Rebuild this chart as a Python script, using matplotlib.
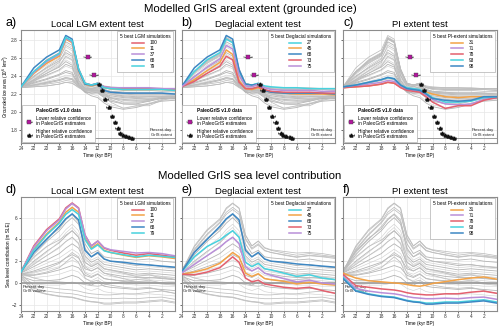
import numpy as np
import matplotlib
matplotlib.use("Agg")
import matplotlib.pyplot as plt

plt.rcParams['font.family'] = ['Liberation Sans', 'DejaVu Sans']

# ---------------- data ----------------
T = [24, 22, 20, 18, 17, 16, 15, 14, 13, 12, 11, 10, 8, 6, 4, 2, 0]

# grounded ice area (10^6 km2), highlighted simulations
ext_100 = [2.28, 2.44, 2.57, 2.65, 2.82, 2.78, 2.48, 2.32, 2.30, 2.32, 2.28, 2.27, 2.26, 2.26, 2.26, 2.26, 2.25]
ext_11 = [2.28, 2.43, 2.54, 2.62, 2.81, 2.77, 2.46, 2.31, 2.29, 2.31, 2.27, 2.26, 2.25, 2.25, 2.25, 2.25, 2.24]
ext_37 = [2.28, 2.44, 2.56, 2.64, 2.82, 2.78, 2.47, 2.32, 2.30, 2.32, 2.28, 2.27, 2.27, 2.27, 2.27, 2.26, 2.26]
ext_68 = [2.28, 2.49, 2.61, 2.69, 2.85, 2.81, 2.47, 2.31, 2.30, 2.31, 2.24, 2.22, 2.21, 2.21, 2.21, 2.21, 2.20]
ext_79 = [2.28, 2.45, 2.57, 2.65, 2.83, 2.79, 2.48, 2.32, 2.30, 2.32, 2.27, 2.26, 2.25, 2.25, 2.25, 2.25, 2.24]
ext_27 = [2.28, 2.45, 2.58, 2.66, 2.81, 2.77, 2.45, 2.31, 2.30, 2.32, 2.29, 2.28, 2.27, 2.27, 2.26, 2.26, 2.26]
ext_45 = [2.28, 2.36, 2.46, 2.55, 2.69, 2.64, 2.35, 2.26, 2.25, 2.27, 2.24, 2.22, 2.21, 2.20, 2.20, 2.20, 2.19]
ext_73 = [2.28, 2.34, 2.43, 2.51, 2.62, 2.58, 2.33, 2.26, 2.26, 2.28, 2.25, 2.23, 2.22, 2.22, 2.22, 2.21, 2.21]
ext_75 = [2.28, 2.39, 2.50, 2.59, 2.74, 2.70, 2.41, 2.29, 2.28, 2.31, 2.27, 2.25, 2.24, 2.24, 2.24, 2.23, 2.23]
ext_31 = [2.27, 2.28, 2.29, 2.31, 2.33, 2.32, 2.28, 2.25, 2.24, 2.24, 2.22, 2.20, 2.17, 2.16, 2.17, 2.17, 2.17]
ext_71 = [2.27, 2.29, 2.31, 2.33, 2.35, 2.34, 2.29, 2.25, 2.24, 2.23, 2.19, 2.14, 2.09, 2.08, 2.09, 2.14, 2.16]
ext_78 = [2.27, 2.28, 2.29, 2.31, 2.33, 2.32, 2.27, 2.24, 2.23, 2.22, 2.17, 2.11, 2.04, 2.07, 2.07, 2.13, 2.16]
ext_93 = [2.28, 2.30, 2.33, 2.36, 2.38, 2.37, 2.30, 2.27, 2.26, 2.25, 2.21, 2.16, 2.11, 2.11, 2.12, 2.16, 2.17]
ext_98 = [2.28, 2.30, 2.33, 2.36, 2.385, 2.37, 2.30, 2.26, 2.25, 2.24, 2.20, 2.15, 2.13, 2.12, 2.13, 2.17, 2.17]

# grounded ice area, other ensemble members (grey)
ext_g1 = [2.28, 2.45, 2.55, 2.63, 2.78, 2.74, 2.45, 2.30, 2.28, 2.30, 2.25, 2.23, 2.22, 2.21, 2.21, 2.21, 2.20]
ext_g2 = [2.28, 2.42, 2.52, 2.60, 2.72, 2.68, 2.42, 2.29, 2.27, 2.29, 2.24, 2.22, 2.21, 2.20, 2.20, 2.20, 2.19]
ext_g3 = [2.28, 2.40, 2.49, 2.57, 2.66, 2.62, 2.40, 2.28, 2.26, 2.28, 2.23, 2.21, 2.20, 2.19, 2.19, 2.19, 2.18]
ext_g4 = [2.28, 2.38, 2.46, 2.53, 2.61, 2.57, 2.37, 2.27, 2.26, 2.27, 2.22, 2.20, 2.19, 2.18, 2.18, 2.18, 2.18]
ext_g5 = [2.28, 2.36, 2.43, 2.50, 2.56, 2.52, 2.35, 2.26, 2.25, 2.26, 2.22, 2.20, 2.18, 2.17, 2.17, 2.17, 2.17]
ext_g6 = [2.28, 2.34, 2.40, 2.46, 2.51, 2.48, 2.33, 2.25, 2.24, 2.25, 2.21, 2.19, 2.17, 2.16, 2.16, 2.17, 2.17]
ext_g7 = [2.28, 2.33, 2.37, 2.42, 2.46, 2.44, 2.31, 2.24, 2.23, 2.24, 2.20, 2.18, 2.16, 2.15, 2.15, 2.16, 2.16]
ext_g8 = [2.28, 2.31, 2.34, 2.38, 2.41, 2.40, 2.29, 2.23, 2.22, 2.23, 2.19, 2.17, 2.15, 2.14, 2.15, 2.15, 2.15]
ext_g9 = [2.28, 2.30, 2.32, 2.35, 2.37, 2.36, 2.28, 2.22, 2.21, 2.22, 2.18, 2.16, 2.14, 2.13, 2.14, 2.15, 2.15]
ext_g10 = [2.28, 2.37, 2.45, 2.52, 2.58, 2.54, 2.33, 2.24, 2.20, 2.18, 2.12, 2.08, 2.05, 2.06, 2.10, 2.13, 2.14]
ext_g11 = [2.28, 2.35, 2.41, 2.47, 2.53, 2.50, 2.31, 2.22, 2.18, 2.16, 2.10, 2.06, 2.03, 2.05, 2.09, 2.12, 2.13]
ext_g12 = [2.28, 2.44, 2.55, 2.64, 2.76, 2.72, 2.44, 2.28, 2.24, 2.22, 2.17, 2.13, 2.10, 2.10, 2.13, 2.16, 2.17]
ext_g13 = [2.28, 2.32, 2.36, 2.41, 2.44, 2.42, 2.30, 2.23, 2.21, 2.21, 2.16, 2.12, 2.09, 2.09, 2.12, 2.15, 2.15]
ext_g14 = [2.28, 2.39, 2.48, 2.56, 2.64, 2.60, 2.38, 2.27, 2.25, 2.26, 2.22, 2.20, 2.19, 2.18, 2.18, 2.19, 2.19]

# sea level contribution (m SLE), highlighted simulations
sle_100 = [1.0, 3.4, 4.9, 5.9, 6.9, 7.35, 6.9, 4.4, 3.4, 3.85, 3.2, 3.0, 2.75, 2.55, 2.7, 2.55, 2.4]
sle_11 = [1.0, 3.1, 4.5, 5.6, 6.5, 6.95, 6.5, 4.1, 3.2, 3.6, 3.0, 2.8, 2.55, 2.35, 2.5, 2.4, 2.25]
sle_37 = [1.0, 3.3, 4.8, 5.8, 6.8, 7.3, 6.85, 4.4, 3.4, 3.85, 3.25, 3.05, 2.9, 2.75, 2.8, 2.7, 2.5]
sle_68 = [1.0, 2.8, 4.0, 5.2, 5.9, 6.35, 5.8, 3.0, 2.4, 2.8, 2.2, 2.0, 1.9, 1.75, 1.65, 1.55, 1.45]
sle_79 = [1.0, 3.0, 4.4, 5.5, 6.3, 6.75, 6.3, 4.0, 3.1, 3.5, 2.95, 2.8, 2.6, 2.4, 2.55, 2.45, 2.35]
sle_27 = [1.0, 2.4, 3.35, 3.95, 4.4, 4.8, 4.2, 1.9, 1.5, 1.8, 1.3, 1.2, 0.9, 0.6, 0.75, 0.45, 0.3]
sle_45 = [0.8, 1.0, 1.3, 1.8, 2.3, 2.8, 2.4, 0.9, 0.6, 0.85, 0.4, 0.3, 0.15, -0.1, 0.05, -0.1, -0.2]
sle_73 = [0.8, 0.75, 1.0, 1.4, 1.9, 2.4, 1.9, 0.45, 0.1, 0.25, -0.1, -0.2, -0.4, -0.5, -0.4, -0.7, -0.95]
sle_75 = [0.9, 1.7, 2.5, 3.3, 3.8, 4.2, 3.6, 1.5, 1.1, 1.4, 0.9, 0.7, 0.4, 0.1, 0.25, 0.0, -0.1]
sle_31 = [0.9, 0.45, 0.2, 0.1, 0.05, 0.0, -0.05, -0.15, -0.25, -0.3, -0.2, -0.05, 0.12, 0.3, 0.45, 0.55, 0.35]
sle_71 = [0.6, -0.5, -0.75, -0.9, -0.95, -1.0, -1.1, -1.25, -1.35, -1.4, -1.45, -1.45, -1.4, -1.45, -1.35, -1.3, -1.5]
sle_78 = [0.8, -0.25, -0.4, -0.55, -0.6, -0.65, -0.75, -0.9, -1.0, -1.05, -1.1, -1.1, -1.0, -1.0, -0.85, -0.75, -0.95]
sle_93 = [0.5, -0.7, -1.0, -1.2, -1.25, -1.3, -1.45, -1.6, -1.7, -1.75, -1.85, -1.85, -1.75, -1.75, -1.65, -1.55, -1.75]
sle_98 = [0.4, -0.75, -1.05, -1.25, -1.3, -1.35, -1.5, -1.65, -1.75, -1.8, -1.95, -1.95, -1.85, -1.85, -1.75, -1.65, -1.85]

# sea level contribution, other ensemble members (grey)
sle_g1 = [1.0, 2.6, 3.8, 4.8, 5.5, 6.0, 5.4, 3.2, 2.4, 2.7, 2.2, 2.0, 1.8, 1.6, 1.7, 1.5, 1.4]
sle_g2 = [1.0, 2.3, 3.3, 4.2, 4.9, 5.4, 4.8, 2.8, 2.1, 2.4, 1.9, 1.8, 1.6, 1.4, 1.5, 1.4, 1.3]
sle_g3 = [0.9, 2.0, 2.9, 3.7, 4.3, 4.8, 4.2, 2.5, 1.9, 2.2, 1.7, 1.6, 1.4, 1.2, 1.3, 1.2, 1.1]
sle_g4 = [0.9, 1.8, 2.5, 3.2, 3.8, 4.2, 3.7, 2.2, 1.7, 2.0, 1.5, 1.4, 1.2, 1.0, 1.1, 1.0, 0.9]
sle_g5 = [0.9, 1.5, 2.1, 2.7, 3.2, 3.6, 3.2, 1.9, 1.5, 1.8, 1.3, 1.2, 1.0, 0.8, 0.9, 0.8, 0.7]
sle_g6 = [0.8, 1.3, 1.8, 2.3, 2.7, 3.1, 2.7, 1.6, 1.3, 1.6, 1.1, 1.0, 0.8, 0.6, 0.7, 0.6, 0.5]
sle_g7 = [0.8, 1.1, 1.5, 1.9, 2.3, 2.6, 2.3, 1.3, 1.1, 1.4, 0.9, 0.8, 0.6, 0.5, 0.5, 0.4, 0.3]
sle_g8 = [0.8, 0.9, 1.2, 1.5, 1.8, 2.1, 1.8, 1.0, 0.8, 1.1, 0.7, 0.6, 0.4, 0.3, 0.3, 0.2, 0.1]
sle_g9 = [0.7, 0.7, 0.9, 1.2, 1.4, 1.6, 1.4, 0.7, 0.5, 0.8, 0.4, 0.3, 0.2, 0.1, 0.1, 0.0, -0.1]
sle_g10 = [0.7, 0.5, 0.6, 0.8, 1.0, 1.2, 1.0, 0.4, 0.2, 0.5, 0.1, 0.0, -0.1, -0.2, -0.2, -0.3, -0.3]
sle_g11 = [0.6, 0.2, 0.2, 0.3, 0.5, 0.7, 0.5, 0.0, -0.2, 0.1, -0.3, -0.4, -0.5, -0.6, -0.5, -0.6, -0.7]
sle_g12 = [0.6, -0.1, -0.2, -0.2, -0.1, 0.1, -0.1, -0.5, -0.7, -0.5, -0.8, -0.9, -1.0, -1.1, -1.0, -1.1, -1.2]
sle_g13 = [1.2, 2.9, 4.1, 5.0, 5.8, 6.3, 5.6, 3.6, 2.7, 3.0, 2.4, 2.3, 2.2, 2.1, 2.2, 2.0, 1.9]
sle_g14 = [1.1, 1.9, 2.8, 3.8, 4.6, 5.1, 4.4, 2.4, 1.6, 1.9, 1.3, 1.1, 0.9, 0.7, 0.8, 0.6, 0.5]

# PaleoGrIS v1.0 data
low_t = [13.6, 12.6]
low_v = [2.61, 2.41]
low_err = [0.6, 0.6]
high_t = [11.8, 11.3, 10.8, 10.3, 9.8, 9.3, 8.9, 8.5, 8.1, 7.6, 7.1, 6.7]
high_v = [2.31, 2.24, 2.15, 2.06, 1.96, 1.89, 1.82, 1.77, 1.75, 1.73, 1.72, 1.71]
high_err = [0.35] * 12
present_extent = 1.71
present_volume = 0.0

panel_sims_a = ["100", "11", "37", "68", "79"]
panel_sims_b = ["27", "45", "68", "73", "75"]
panel_sims_c = ["31", "71", "78", "93", "98"]
panel_titles = ["Local LGM extent test", "Deglacial extent test", "PI extent test"]
legend_titles = ["5 best LGM simulations", "5 best Deglacial simulations", "5 best PI-extent simulations"]
x_ticks = [24, 22, 20, 18, 16, 14, 12, 10, 8, 6, 4, 2]

# ---------------- styling ----------------
RED = "#e3606e"
ORANGE = "#f3a347"
PURPLE = "#b98fd8"
BLUE = "#3d87c3"
CYAN = "#48d2de"
colors_a = [RED, ORANGE, PURPLE, BLUE, CYAN]
colors_b = [CYAN, ORANGE, BLUE, RED, PURPLE]
colors_c = [ORANGE, PURPLE, RED, CYAN, BLUE]

ext_named = {"100": ext_100, "11": ext_11, "37": ext_37, "68": ext_68, "79": ext_79,
             "27": ext_27, "45": ext_45, "73": ext_73, "75": ext_75,
             "31": ext_31, "71": ext_71, "78": ext_78, "93": ext_93, "98": ext_98}
sle_named = {"100": sle_100, "11": sle_11, "37": sle_37, "68": sle_68, "79": sle_79,
             "27": sle_27, "45": sle_45, "73": sle_73, "75": sle_75,
             "31": sle_31, "71": sle_71, "78": sle_78, "93": sle_93, "98": sle_98}
ext_grey = [ext_g1, ext_g2, ext_g3, ext_g4, ext_g5, ext_g6, ext_g7, ext_g8, ext_g9,
            ext_g10, ext_g11, ext_g12, ext_g13, ext_g14]
sle_grey = [sle_g1, sle_g2, sle_g3, sle_g4, sle_g5, sle_g6, sle_g7, sle_g8, sle_g9,
            sle_g10, sle_g11, sle_g12, sle_g13, sle_g14]

W, H = 500, 328
fig = plt.figure(figsize=(W / 100, H / 100), dpi=100)

lefts = [21, 181.5, 343]
width = 153.5
top_row = (30, 143)
bot_row = (197, 311)

FS = 3.4
GRID = "#e6e6e6"
SPINE = "#8c8c8c"


def make_ax(left, row):
    ax = fig.add_axes([left / W, 1 - row[1] / H, width / W, (row[1] - row[0]) / H])
    ax.set_xlim(24, 0)
    ax.set_xticks(x_ticks)
    ax.grid(True, color=GRID, lw=0.5, zorder=0)
    ax.set_axisbelow(True)
    for s in ax.spines.values():
        s.set_color(SPINE)
        s.set_linewidth(0.8)
    ax.tick_params(labelsize=FS, length=1.5, width=0.5, pad=1, colors="#333333")
    ax.set_xlabel("Time (kyr BP)", fontsize=FS, labelpad=1)
    return ax


panel_sims = [panel_sims_a, panel_sims_b, panel_sims_c]
panel_cols = [colors_a, colors_b, colors_c]
labels_top = ["a)", "b)", "c)"]
labels_bot = ["d)", "e)", "f)"]

for i in range(3):
    for row, named, grey, lab in ((top_row, ext_named, ext_grey, labels_top[i]),
                                  (bot_row, sle_named, sle_grey, labels_bot[i])):
        ax = make_ax(lefts[i], row)
        is_top = row is top_row
        # grey ensemble
        for j, g in enumerate(grey):
            ax.plot(T, g, color="#b4b4b4" if j % 2 == 0 else "#d2d2d2",
                    lw=0.6 if j % 2 == 0 else 0.45, zorder=1)
        for k, v in named.items():
            if k not in panel_sims[i]:
                ax.plot(T, v, color="#bdbdbd", lw=0.55, zorder=1)
        # reference line
        if is_top:
            ax.axhline(present_extent, color="#8a8a8a", lw=0.6, zorder=1.5)
            ax.text(0.4, present_extent + 0.015, "Present-day\nGrIS extent", fontsize=3.0,
                    ha="right", va="bottom", color="#222222", linespacing=1.1)
        else:
            ax.axhline(present_volume, color="#9a9a9a", lw=1.2, zorder=1.5)
            ax.text(23.7, present_volume - 0.15, "Present-day\nGrIS volume", fontsize=3.0,
                    ha="left", va="top", color="#222222", linespacing=1.1)
        # highlighted
        handles = []
        for sim, col in zip(panel_sims[i], panel_cols[i]):
            h, = ax.plot(T, named[sim], color=col, lw=1.1, zorder=3, label=sim)
            handles.append(h)
        leg = ax.legend(handles=handles, loc="upper right", title=legend_titles[i],
                        fontsize=FS, title_fontsize=FS, frameon=True, fancybox=False,
                        edgecolor="#b0b0b0", framealpha=1, borderaxespad=0.3,
                        handlelength=2.6, labelspacing=0.2, borderpad=0.6,
                        handletextpad=1.2)
        leg.get_frame().set_linewidth(0.5)
        leg.set_zorder(6)
        if is_top:
            ax.set_ylim(1.656, 2.911)
            ax.set_yticks([1.8, 2.0, 2.2, 2.4, 2.6, 2.8])
            ax.add_artist(leg)
            e1 = ax.errorbar(low_t, low_v, xerr=low_err, fmt="s", ms=2.2, color="#b3169e",
                             mec="#444444", mew=0.3, ecolor="#333333", elinewidth=0.5,
                             capsize=0.8, capthick=0.5, zorder=5,
                             label="Lower relative confidence\nin PaleoGrIS estimates")
            e2 = ax.errorbar(high_t, high_v, xerr=high_err, fmt="^", ms=2.2, color="#111111",
                             ecolor="#333333", elinewidth=0.5, capsize=0.8, capthick=0.5,
                             zorder=5,
                             label="Higher relative confidence\nin PaleoGrIS estimates")
            leg2 = ax.legend(handles=[e1, e2], loc="lower left", title="PaleoGrIS v1.0 data",
                             fontsize=FS, title_fontproperties={"weight": "bold", "size": FS},
                             frameon=True, fancybox=False, edgecolor="#b0b0b0", framealpha=1,
                             borderaxespad=0.15, handlelength=2.0, labelspacing=0.7,
                             borderpad=0.6, handletextpad=0.5)
            leg2.get_frame().set_linewidth(0.5)
            leg2.set_zorder(6)
            for t in leg2.get_texts():
                t.set_linespacing(1.0)
        else:
            ax.set_ylim(-2.58, 7.9)
            ax.set_yticks([-2, 0, 2, 4, 6])
        if i == 0:
            ax.set_ylabel("Grounded ice area (10$^6$ km$^2$)" if is_top
                          else "Sea level contribution (m SLE)", fontsize=FS)
            ax.yaxis.set_label_coords(-0.066, 0.5)
        else:
            ax.tick_params(labelleft=False)
        ax.set_title(panel_titles[i], fontsize=6.8, pad=2.5)
        lx = 5 if i == 0 else lefts[i]
        fig.text(lx / W, 1 - (row[0] - 1) / H, lab, fontsize=9, ha="left", va="bottom")

fig.text(0.5, 1 - 9 / H, "Modelled GrIS areal extent (grounded ice)", fontsize=8.2,
         ha="center", va="center")
fig.text(0.5, 1 - 176 / H, "Modelled GrIS sea level contribution", fontsize=8.2,
         ha="center", va="center")

fig.savefig("out.png", dpi=100)
